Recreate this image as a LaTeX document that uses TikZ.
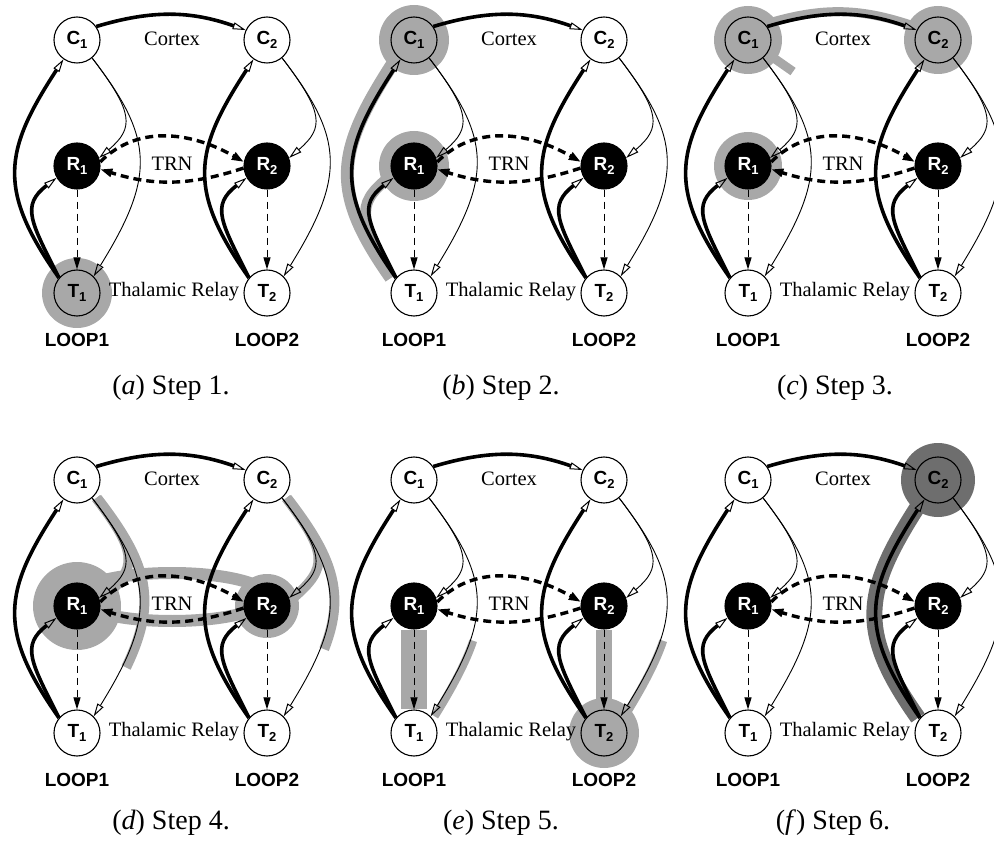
\documentclass[tikz,border=0pt]{standalone}
\usepackage{fontspec}
\setmainfont{Liberation Serif}
\setsansfont{Liberation Sans}
\usetikzlibrary{arrows.meta,backgrounds,calc}
\definecolor{hlgray}{gray}{0.66}
\definecolor{hldark}{gray}{0.43}
\newcommand\sbs[1]{\raisebox{-0.45ex}{\fontsize{13}{13}\selectfont #1}}
% connector paths
\newcommand\pTC[2]{(#1t#2.140) .. controls +(-62,88) and +(-60,-92) .. (#1c#2.235)}
\newcommand\pTR[2]{(#1t#2.140) .. controls +(-28,56) and +(-36,-28) .. (#1r#2.210)}
\newcommand\pCR[2]{(#1c#2.-50) .. controls +(42,-55) and +(35,30) .. (#1r#2.20)}
\newcommand\pCT[2]{(#1c#2.-50) .. controls +(62,-80) and +(62,100) .. (#1t#2.45)}
\newcommand\pCTrev[2]{(#1t#2.45) .. controls +(62,100) and +(62,-80) .. (#1c#2.-50)}
\tikzset{
  nd/.style={circle, draw, line width=1.1pt, minimum size=46pt, inner sep=0pt,
    font=\sffamily\bfseries\fontsize{19}{19}\selectfont},
  rnd/.style={nd, fill=black, text=white},
  openarr/.style={-{Triangle[open, length=13pt, width=7pt, line width=1pt]}},
  thickln/.style={line width=3.6pt, openarr},
  thinln/.style={line width=0.9pt, openarr},
  fb/.style={-{Triangle[length=12pt, width=8pt]}},
  trnln/.style={line width=3.4pt, dash pattern=on 8pt off 5pt, fb},
  rtln/.style={line width=1pt, dash pattern=on 7pt off 5pt, -{Triangle[length=12pt, width=7pt]}},
  lbl/.style={font=\fontsize{20.5}{20.5}\selectfont, inner sep=1pt},
  looplbl/.style={font=\sffamily\bfseries\fontsize{19}{19}\selectfont},
  captxt/.style={font=\fontsize{28}{28}\selectfont},
  hl/.style={draw=hlgray, line cap=butt},
}
\newcommand\drawloops[7]{%
  \begin{scope}[shift={(#2,-#3)}]
    \node[nd, fill=#4] (#1c1) at (0,0) {C\sbs{1}};
    \node[nd, fill=#5] (#1c2) at (190,0) {C\sbs{2}};
    \node[rnd] (#1r1) at (0,-126) {R\sbs{1}};
    \node[rnd] (#1r2) at (190,-126) {R\sbs{2}};
    \node[nd, fill=#6] (#1t1) at (0,-253) {T\sbs{1}};
    \node[nd, fill=#7] (#1t2) at (190,-253) {T\sbs{2}};
    \node[lbl] (#1ctx) at (95,1) {Cortex};
    \node[lbl] (#1trn) at (95,-124) {TRN};
    \node[lbl] (#1thr) at (97,-252) {Thalamic Relay};
    \node[looplbl] (#1lpa) at (0,-300) {LOOP1};
    \node[looplbl] (#1lpb) at (190,-300) {LOOP2};
  \end{scope}
  \draw[thickln] (#1c1.35) to[bend left=18] (#1c2.155);
  \foreach \k in {1,2}{%
    \draw[thickln] \pTC{#1}{\k};
    \draw[thickln] \pTR{#1}{\k};
    \draw[thinln] \pCR{#1}{\k};
    \draw[thinln] \pCT{#1}{\k};
    \draw[rtln] (#1r\k) -- (#1t\k);
  }
  \draw[trnln] (#1r1.10) to[out=45, in=150] (#1r2.170);
  \draw[trnln] (#1r2.185) to[bend left=18] (#1r1.-8);
}
\begin{document}
\begin{tikzpicture}[x=1pt,y=1pt]
\useasboundingbox (0,0) rectangle (994,-842);

\drawloops{a}{77}{40}{white}{white}{hlgray}{white}
\drawloops{b}{414}{40}{hlgray}{white}{white}{white}
\drawloops{c}{748}{40}{hlgray}{hlgray}{white}{white}
\drawloops{d}{77}{480}{white}{white}{white}{white}
\drawloops{e}{414}{480}{white}{white}{white}{hlgray}
\drawloops{f}{748}{480}{white}{hldark}{white}{white}

\begin{scope}[on background layer]
  % (a)
  \fill[hlgray] (at1) circle (35);
  % (b)
  \fill[hlgray] (bc1) circle (35);
  \fill[hlgray] (br1) circle (35);
  \draw[hl, line width=13pt, transform canvas={xshift=-5pt}] \pTC{b}{1};
  \draw[hl, line width=11pt, transform canvas={xshift=-5pt}] \pTR{b}{1};
  % (c)
  \fill[hlgray] (cc1) circle (34);
  \fill[hlgray] (cc2) circle (34);
  \fill[hlgray] (cr1) circle (34);
  \draw[hl, line width=9pt, transform canvas={yshift=3pt}] (cc1.35) to[bend left=18] (cc2.155);
  \draw[hl, line width=9pt] (cc1) -- +(-35:55);
  % (d)
  \fill[hlgray] (dr1) circle (44);
  \fill[hlgray] (dr2) circle (32);
  \draw[hl, line width=12pt] ($(dr1)!0.5!(dr2)+(0,9)$) ellipse [x radius=96, y radius=24];
  \draw[hl, line width=10pt, transform canvas={xshift=5pt}, dash pattern=on 185pt off 1000pt] \pCT{d}{1};
  \draw[hl, line width=10pt, transform canvas={xshift=4pt}] \pCR{d}{1};
  \draw[hl, line width=10pt, transform canvas={xshift=5pt}, dash pattern=on 165pt off 1000pt] \pCT{d}{2};
  \draw[hl, line width=10pt, transform canvas={xshift=4pt}] \pCR{d}{2};
  % (e)
  \fill[hlgray] ($(er1.south)+(-13,0)$) rectangle ($(et1.north)+(13,0)$);
  \fill[hlgray] ($(er2.south)+(-8,0)$) rectangle ($(et2.north)+(8,0)$);
  \fill[hlgray] (et2) circle (35);
  \draw[hl, line width=8pt, transform canvas={xshift=4pt}, dash pattern=on 85pt off 1000pt] \pCTrev{e}{1};
  \draw[hl, line width=8pt, transform canvas={xshift=4pt}, dash pattern=on 85pt off 1000pt] \pCTrev{e}{2};
  % (f)
  \fill[hldark] (fc2) circle (37);
  \draw[draw=hldark, line cap=butt, line width=16pt, transform canvas={xshift=-2pt}] \pTC{f}{2};
\end{scope}

\node[captxt] (capa) at (171,-388) {(\textit{a}) Step 1.};
\node[captxt] (capb) at (501,-388) {(\textit{b}) Step 2.};
\node[captxt] (capc) at (835,-388) {(\textit{c}) Step 3.};
\node[captxt] (capd) at (171,-823) {(\textit{d}) Step 4.};
\node[captxt] (cape) at (501,-823) {(\textit{e}) Step 5.};
\node[captxt] (capf) at (833,-823) {(\textit{f}) Step 6.};
\end{tikzpicture}
\end{document}
